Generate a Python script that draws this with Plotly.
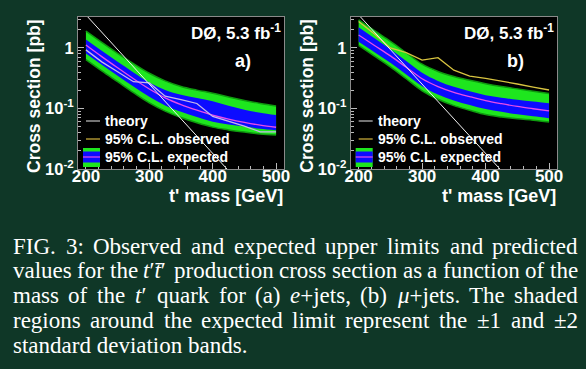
import re
import plotly.graph_objects as go

W, H = 586, 369
BG = "#0f3727"
GREEN = "#1ee61e"
EDGE = "#0f9a0f"
BLUE = "#0c0cff"
MAGENTA = "#e84ce8"

mass = [200, 225, 250, 275, 300, 325, 350, 375, 400, 425, 450, 475, 500]
theory = [3.52, 1.82, 0.943, 0.488, 0.253, 0.131, 0.0678, 0.0351, 0.0182,
          0.0094, 0.0049, 0.0025, 0.0013]

# panel a) e+jets
exp_a = [1.12, 0.72, 0.47, 0.31, 0.21, 0.15, 0.116, 0.094, 0.078, 0.067, 0.059, 0.053, 0.049]
p1_a = [1.378, 0.896, 0.592, 0.395, 0.270, 0.202, 0.168, 0.149, 0.132, 0.111, 0.0957, 0.085, 0.0777]
m1_a = [0.811, 0.528, 0.348, 0.230, 0.156, 0.1125, 0.088, 0.0721, 0.0605, 0.0545, 0.0502, 0.0462, 0.0437]
p2_a = [1.90, 1.237, 0.817, 0.551, 0.382, 0.286, 0.231, 0.201, 0.179, 0.155, 0.136, 0.121, 0.110]
m2_a = [0.644, 0.419, 0.277, 0.183, 0.124, 0.0905, 0.0708, 0.058, 0.0492, 0.0443, 0.0408, 0.038, 0.0363]
obs_a = [0.93, 0.59, 0.405, 0.277, 0.265, 0.16, 0.14, 0.121, 0.074, 0.062, 0.051, 0.041, 0.041]

# panel b) mu+jets
exp_b = [1.64, 1.10, 0.74, 0.48, 0.31, 0.23, 0.185, 0.157, 0.135, 0.12, 0.108, 0.099, 0.091]
p1_b = [2.21, 1.45, 0.953, 0.611, 0.390, 0.286, 0.228, 0.193, 0.166, 0.151, 0.139, 0.130, 0.122]
m1_b = [1.27, 0.854, 0.568, 0.364, 0.2325, 0.170, 0.136, 0.114, 0.0977, 0.088, 0.080, 0.0743, 0.069]
p2_b = [2.92, 1.93, 1.286, 0.834, 0.539, 0.409, 0.337, 0.292, 0.257, 0.231, 0.211, 0.193, 0.177]
m2_b = [1.109, 0.735, 0.489, 0.310, 0.196, 0.142, 0.1116, 0.0936, 0.0795, 0.0724, 0.0674, 0.064, 0.060]
obs_b = [2.75, 1.7, 1.0, 0.84, 0.63, 0.69, 0.43, 0.344, 0.315, 0.285, 0.254, 0.225, 0.202]

x_ticks = [200, 300, 400, 500]
y_ticks = [0.01, 0.1, 1]
y_ticktext = ["10<sup>-2</sup>", "10<sup>-1</sup>", "1"]
y_minor = [0.02, 0.03, 0.04, 0.05, 0.06, 0.07, 0.08, 0.09,
           0.2, 0.3, 0.4, 0.5, 0.6, 0.7, 0.8, 0.9, 2, 3]

caption = [
    "FIG. 3: Observed and expected upper limits and predicted",
    "values for the <i>t</i>′<i>t̄</i>′ production cross section as a function of the",
    "mass of the <i>t</i>′ quark for (a) <i>e</i>+jets, (b) <i>μ</i>+jets. The shaded",
    "regions around the expected limit represent the ±1 and ±2",
    "standard deviation bands.",
]

SANS = "Liberation Sans, Arial, sans-serif"
SERIF = "Liberation Serif, Times New Roman, serif"
CAP_SIZE = 23

# approximate Times/Liberation Serif advance widths (per 1000 em) for justification
TW = {" ": 250, "(": 333, ")": 333, "+": 564, ",": 250, "-": 333, ".": 250, ":": 278,
      "±": 564, "′": 275, "μ": 520, "\u0304": 0}
TW.update({d: 500 for d in "0123456789"})
TW.update(dict(zip("ABCDEFGHIJKLMNOPQRSTUVWXYZ",
                   [722, 667, 667, 722, 611, 556, 722, 722, 333, 389, 722, 611, 889, 722, 722,
                    556, 722, 667, 556, 611, 722, 722, 944, 722, 722, 611])))
TW.update(dict(zip("abcdefghijklmnopqrstuvwxyz",
                   [444, 500, 444, 500, 444, 333, 500, 500, 278, 278, 500, 278, 778, 500, 500,
                    500, 500, 333, 389, 278, 500, 500, 722, 500, 500, 444])))


def text_width(s, size):
    plain = re.sub(r"<[^>]+>", "", s)
    return sum(TW.get(c, 500) for c in plain) * size / 1000.0


def px(x):
    return x / W


def py(y):
    return 1 - y / H


fig = go.Figure()


def add_panel(xa, ya, exp, p1, m1, p2, m2, obs, obs_color):
    common = dict(x=mass, xaxis=xa, yaxis=ya, showlegend=False, hoverinfo="skip")
    fig.add_trace(go.Scatter(y=p2, mode="lines", line=dict(width=1.5, shape="spline", color=EDGE), **common))
    fig.add_trace(go.Scatter(y=m2, mode="lines", line=dict(width=1.5, shape="spline", color=EDGE),
                             fill="tonexty", fillcolor=GREEN, **common))
    fig.add_trace(go.Scatter(y=p1, mode="lines", line=dict(width=0, shape="spline", color=BLUE), **common))
    fig.add_trace(go.Scatter(y=m1, mode="lines", line=dict(width=0, shape="spline", color=BLUE),
                             fill="tonexty", fillcolor=BLUE, **common))
    fig.add_trace(go.Scatter(y=exp, mode="lines", line=dict(width=1.3, shape="spline", color=MAGENTA), **common))
    fig.add_trace(go.Scatter(y=obs, mode="lines", line=dict(width=1.3, color=obs_color), **common))
    fig.add_trace(go.Scatter(y=theory, mode="lines", line=dict(width=1, color="#f4f4f4"), **common))


add_panel("x", "y", exp_a, p1_a, m1_a, p2_a, m2_a, obs_a, "#c8b8ea")
add_panel("x2", "y2", exp_b, p1_b, m1_b, p2_b, m2_b, obs_b, "#d8c440")

xtickfont = dict(family=SANS, size=17, color="white", weight="bold")
ytickfont = dict(family=SANS, size=16.5, color="white", weight="bold")
xcommon = dict(range=[187.5, 512.5], tickmode="array", tickvals=x_ticks, ticks="inside", ticklen=6,
               tickcolor="#bbbbbb", tickfont=xtickfont, showgrid=False, zeroline=False,
               showline=True, linecolor="#8a8a8a", linewidth=1, mirror=True, automargin=False,
               ticklabelstandoff=-8,
               minor=dict(ticks="inside", ticklen=3, tickcolor="#bbbbbb", tickmode="linear",
                          tick0=200, dtick=20))
ycommon = dict(type="log", range=[-2, 0.512], tickmode="array", tickvals=y_ticks, ticktext=y_ticktext,
               ticks="inside", ticklen=6, tickcolor="#bbbbbb", tickfont=ytickfont, showgrid=False,
               zeroline=False, showline=True, linecolor="#8a8a8a", linewidth=1, mirror=True,
               automargin=False,
               minor=dict(ticks="inside", ticklen=3, tickcolor="#bbbbbb", tickmode="array",
                          tickvals=y_minor))

fig.update_layout(
    width=W, height=H, margin=dict(l=0, r=0, t=0, b=0, pad=0), autosize=False,
    paper_bgcolor=BG, plot_bgcolor="black",
    xaxis=dict(domain=[px(78), px(284)], anchor="y", **xcommon),
    yaxis=dict(domain=[py(169), py(17)], anchor="x", **ycommon),
    xaxis2=dict(domain=[px(350.7), px(557)], anchor="y2", **xcommon),
    yaxis2=dict(domain=[py(169), py(17)], anchor="x2", **ycommon),
)

ann = []
shapes = []
for x0, x1, tag in [(78, 284, "a)"), (350.7, 557, "b)")]:
    # axis titles
    ann.append(dict(x=px(x1 + 1), y=py(196), xref="paper", yref="paper", text="t' mass [GeV]",
                    showarrow=False, xanchor="right", yanchor="middle",
                    font=dict(family=SANS, size=18, color="white", weight="bold")))
    ann.append(dict(x=px(x0 - 44), y=py(17), xref="paper", yref="paper", text="Cross section [pb]",
                    textangle=-90, showarrow=False, xanchor="center", yanchor="top",
                    font=dict(family=SANS, size=17.5, color="white", weight="bold")))
    ann.append(dict(x=px(x1 - 1), y=py(32), xref="paper", yref="paper", text="DØ, 5.3 fb<sup>-1</sup>",
                    showarrow=False, xanchor="right", yanchor="middle",
                    font=dict(family=SANS, size=17, color="white", weight="bold")))
    ann.append(dict(x=px(x1 - 31), y=py(61), xref="paper", yref="paper", text=tag,
                    showarrow=False, xanchor="right", yanchor="middle",
                    font=dict(family=SANS, size=18, color="white", weight="bold")))
    # legend
    lx0, lx1, tx = x0 + 8, x0 + 22, x0 + 25
    shapes.append(dict(type="line", xref="paper", yref="paper", x0=px(lx0), x1=px(lx1),
                       y0=py(121), y1=py(121), line=dict(color="#e8e8e8", width=1)))
    shapes.append(dict(type="line", xref="paper", yref="paper", x0=px(lx0), x1=px(lx1),
                       y0=py(139), y1=py(139), line=dict(color="#a89030", width=1.5)))
    shapes.append(dict(type="rect", xref="paper", yref="paper", x0=px(lx0 - 3), x1=px(lx1),
                       y0=py(167), y1=py(148), line=dict(width=0), fillcolor=GREEN))
    shapes.append(dict(type="rect", xref="paper", yref="paper", x0=px(lx0 - 3), x1=px(lx1),
                       y0=py(162.5), y1=py(151.5), line=dict(width=0), fillcolor=BLUE))
    shapes.append(dict(type="line", xref="paper", yref="paper", x0=px(lx0 - 3), x1=px(lx1),
                       y0=py(157), y1=py(157), line=dict(color=MAGENTA, width=1.2)))
    for yy, t in [(121, "theory"), (139, "95% C.L. observed"), (157, "95% C.L. expected")]:
        ann.append(dict(x=px(tx), y=py(yy), xref="paper", yref="paper", text=t, showarrow=False,
                        xanchor="left", yanchor="middle",
                        font=dict(family=SANS, size=14, color="white", weight="bold")))

# caption: justified lines (all but the last), words placed across 12..577 px
CAP_L, CAP_R = 12, 577
capfont = dict(family=SERIF, size=CAP_SIZE, color="white")
for i, line in enumerate(caption):
    yy = py(246 + i * 24.8)
    if i == len(caption) - 1:
        ann.append(dict(x=px(CAP_L), y=yy, xref="paper", yref="paper", text=line,
                        showarrow=False, xanchor="left", yanchor="middle", borderpad=0, font=capfont))
        continue
    words = line.split(" ")
    widths = [text_width(w, CAP_SIZE) for w in words]
    gap = (CAP_R - CAP_L - sum(widths)) / (len(words) - 1)
    xpos = CAP_L
    for w, wd in zip(words, widths):
        ann.append(dict(x=px(xpos), y=yy, xref="paper", yref="paper", text=w,
                        showarrow=False, xanchor="left", yanchor="middle", borderpad=0, font=capfont))
        xpos += wd + gap

fig.update_layout(annotations=ann, shapes=shapes)
fig.write_html("out.html", config={"displayModeBar": False},
               post_script="document.body.style.margin='0';document.body.style.overflow='hidden';")
